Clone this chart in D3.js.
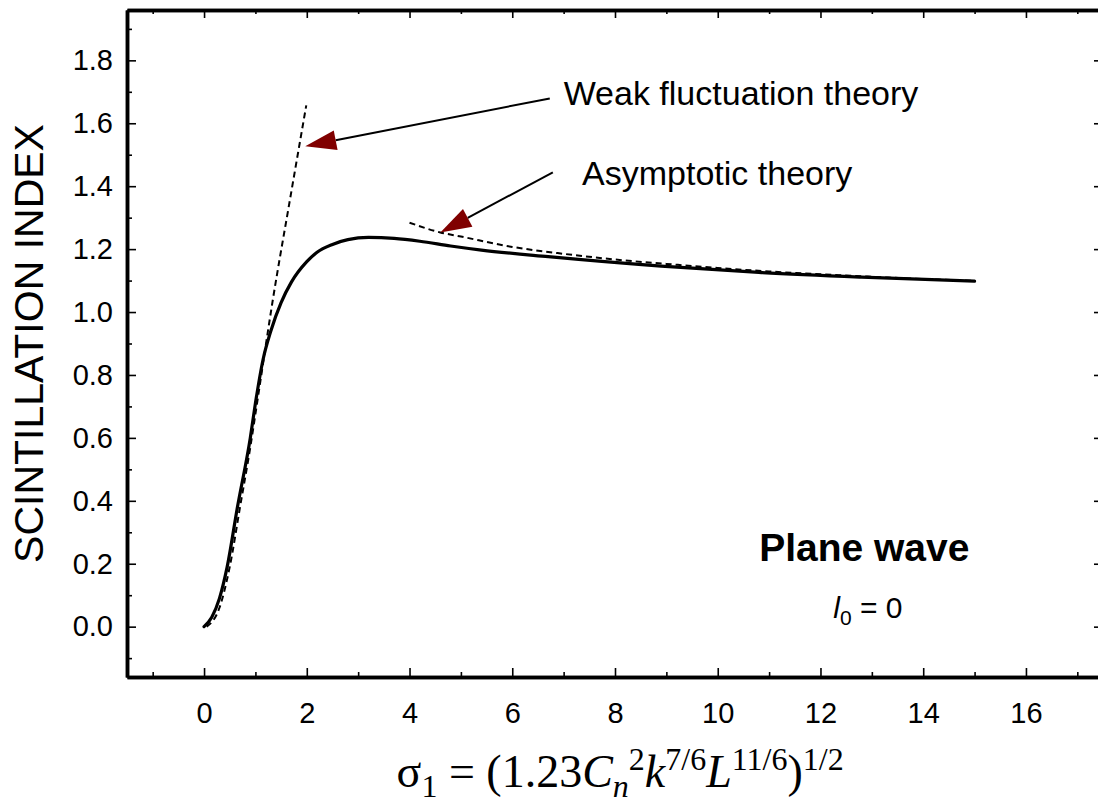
<!DOCTYPE html>
<html>
<head>
<meta charset="utf-8">
<script src="https://d3js.org/d3.v7.min.js"></script>
<style>
  body { margin: 0; background: #fff; }
  svg { display: block; }
  .tick text { font-family: "Liberation Sans", Arial, sans-serif; }
</style>
</head>
<body>
<svg width="1098" height="805"></svg>
<script>

// ---- data ----
var sigma1 = [0, 0.15, 0.3, 0.45, 0.65, 0.9, 1.0, 1.15, 1.3, 1.5, 1.7, 2.0, 2.2, 2.5, 2.8, 3.2, 3.7, 4.2, 4.8, 5.4, 6.7, 8.9, 10.8, 12.8, 15];
var scintIndex = [0, 0.03, 0.09, 0.19, 0.38, 0.6, 0.71, 0.85, 0.94, 1.03, 1.095, 1.16, 1.19, 1.215, 1.23, 1.237, 1.234, 1.225, 1.21, 1.197, 1.176, 1.146, 1.126, 1.111, 1.098];

var weakX = [0.05, 0.3, 0.5, 0.7, 0.9, 1.05, 1.34, 1.67, 1.99];
var weakY = [0.0, 0.06, 0.19, 0.38, 0.57, 0.73, 1.04, 1.355, 1.657];

var asymX = [4, 4.6, 5, 6, 7, 8, 9, 10, 11, 12, 13, 14, 15];
var asymY = [1.284, 1.253, 1.24, 1.207, 1.185, 1.167, 1.153, 1.14, 1.129, 1.12, 1.112, 1.105, 1.099];

var xMajor = [0, 2, 4, 6, 8, 10, 12, 14, 16];
var xMinor = [-1, 1, 3, 5, 7, 9, 11, 13, 15, 17];
var yMajor = [0, 0.2, 0.4, 0.6, 0.8, 1.0, 1.2, 1.4, 1.6, 1.8];
var yMinor = [-0.1, 0.1, 0.3, 0.5, 0.7, 0.9, 1.1, 1.3, 1.5, 1.7, 1.9];

// annotations: [text, x, y] in data units, arrows: [fromX, fromY, tipX, tipY]
var notes = [["Weak fluctuation theory", 7.0, 1.657], ["Asymptotic theory", 7.36, 1.403]];
var arrows = [[6.73, 1.679, 1.97, 1.527], [6.79, 1.444, 4.6, 1.253]];

var svg = d3.select("svg");

var x = d3.scaleLinear().domain([-1.5, 17.5]).range([127, 1103]);
var y = d3.scaleLinear().domain([-0.16, 1.96]).range([677, 10]);

var fmt = d3.format(".1f");

function styleAxis(g) {
  g.select(".domain").attr("stroke-width", 3.5);
  g.selectAll(".tick line").attr("stroke-width", 1.6);
  g.selectAll(".tick text").attr("font-size", 29).attr("fill", "#000");
}

// bottom
svg.append("g").attr("transform", "translate(0," + y.range()[0] + ")")
    .call(d3.axisBottom(x).tickValues(xMajor).tickSizeInner(-9).tickSizeOuter(0).tickPadding(25).tickFormat(d3.format("d")))
    .call(styleAxis)
    .selectAll(".tick text").attr("dy", "0.71em");
svg.append("g").attr("transform", "translate(0," + y.range()[0] + ")")
    .call(d3.axisBottom(x).tickValues(xMinor).tickSizeInner(-5).tickSizeOuter(0).tickFormat(""))
    .call(styleAxis);

// top
svg.append("g").attr("transform", "translate(0," + y.range()[1] + ")")
    .call(d3.axisTop(x).tickValues(xMajor).tickSizeInner(-8).tickSizeOuter(0).tickFormat(""))
    .call(styleAxis);
svg.append("g").attr("transform", "translate(0," + y.range()[1] + ")")
    .call(d3.axisTop(x).tickValues(xMinor).tickSizeInner(-4).tickSizeOuter(0).tickFormat(""))
    .call(styleAxis);

// left
svg.append("g").attr("transform", "translate(" + x.range()[0] + ",0)")
    .call(d3.axisLeft(y).tickValues(yMajor).tickSizeInner(-9).tickSizeOuter(0).tickPadding(14).tickFormat(fmt))
    .call(styleAxis);
svg.append("g").attr("transform", "translate(" + x.range()[0] + ",0)")
    .call(d3.axisLeft(y).tickValues(yMinor).tickSizeInner(-5).tickSizeOuter(0).tickFormat(""))
    .call(styleAxis);

// right
svg.append("g").attr("transform", "translate(" + x.range()[1] + ",0)")
    .call(d3.axisRight(y).tickValues(yMajor).tickSizeInner(-9).tickSizeOuter(0).tickFormat(""))
    .call(styleAxis);
svg.append("g").attr("transform", "translate(" + x.range()[1] + ",0)")
    .call(d3.axisRight(y).tickValues(yMinor).tickSizeInner(-5).tickSizeOuter(0).tickFormat(""))
    .call(styleAxis);

// curves
var line = d3.line()
    .x(function(d) { return x(d[0]); })
    .y(function(d) { return y(d[1]); })
    .curve(d3.curveMonotoneX);

svg.append("path")
    .attr("d", line(d3.zip(weakX, weakY)))
    .attr("fill", "none").attr("stroke", "#000").attr("stroke-width", 2)
    .attr("stroke-dasharray", "6,4");

svg.append("path")
    .attr("d", line(d3.zip(asymX, asymY)))
    .attr("fill", "none").attr("stroke", "#000").attr("stroke-width", 2)
    .attr("stroke-dasharray", "6,4");

svg.append("path")
    .attr("d", line(d3.zip(sigma1, scintIndex)))
    .attr("fill", "none").attr("stroke", "#000").attr("stroke-width", 3.2)
    .attr("stroke-linecap", "round").attr("stroke-linejoin", "round");

// arrows
arrows.forEach(function(a) {
  var x0 = x(a[0]), y0 = y(a[1]), x1 = x(a[2]), y1 = y(a[3]);
  var ang = Math.atan2(y1 - y0, x1 - x0);
  var len = 31, half = 10;
  var bx = x1 - len * Math.cos(ang), by = y1 - len * Math.sin(ang);
  svg.append("line")
      .attr("x1", x0).attr("y1", y0).attr("x2", bx).attr("y2", by)
      .attr("stroke", "#000").attr("stroke-width", 2);
  var pts = [[x1, y1],
             [bx + half * Math.sin(ang), by - half * Math.cos(ang)],
             [bx - half * Math.sin(ang), by + half * Math.cos(ang)]];
  svg.append("polygon")
      .attr("points", pts.map(function(p) { return p.join(","); }).join(" "))
      .attr("fill", "#800000");
});

svg.selectAll(".note").data(notes).enter().append("text")
    .attr("class", "note")
    .attr("x", function(d) { return x(d[1]); })
    .attr("y", function(d) { return y(d[2]); })
    .attr("font-family", "Liberation Sans, Arial, sans-serif")
    .attr("font-size", 34)
    .text(function(d) { return d[0]; });

svg.append("text")
    .attr("x", x(14.9)).attr("y", y(0.21))
    .attr("text-anchor", "end")
    .attr("font-family", "Liberation Sans, Arial, sans-serif")
    .attr("font-weight", "bold").attr("font-size", 39)
    .text("Plane wave");

var l0 = svg.append("text")
    .attr("x", x(12.25)).attr("y", y(0.028))
    .attr("font-family", "Liberation Sans, Arial, sans-serif")
    .attr("font-size", 30);
l0.append("tspan").attr("font-style", "italic").text("l");
l0.append("tspan").attr("font-size", 21).attr("dy", 7).text("0");
l0.append("tspan").attr("dy", -7).text(" = 0");

// y title
svg.append("text")
    .attr("transform", "translate(43," + y(0.9) + ") rotate(-90)")
    .attr("text-anchor", "middle")
    .attr("font-family", "Liberation Sans, Arial, sans-serif")
    .attr("font-size", 41)
    .text("SCINTILLATION INDEX");

// x title
var xt = svg.append("text")
    .attr("x", x(8.1)).attr("y", 787)
    .attr("text-anchor", "middle")
    .attr("font-family", "Liberation Serif, Times New Roman, serif")
    .attr("font-size", 46);
xt.append("tspan").text("\u03c3");
xt.append("tspan").attr("font-size", 32).attr("dy", 10).text("1");
xt.append("tspan").attr("dy", -10).text(" = (1.23");
xt.append("tspan").attr("font-style", "italic").text("C");
xt.append("tspan").attr("font-style", "italic").attr("font-size", 32).attr("dy", 10).text("n");
xt.append("tspan").attr("font-size", 32).attr("dy", -27).text("2");
xt.append("tspan").attr("font-style", "italic").attr("dy", 17).text("k");
xt.append("tspan").attr("font-size", 32).attr("dy", -17).text("7/6");
xt.append("tspan").attr("font-style", "italic").attr("dy", 17).text("L");
xt.append("tspan").attr("font-size", 32).attr("dy", -17).text("11/6");
xt.append("tspan").attr("dy", 17).text(")");
xt.append("tspan").attr("font-size", 32).attr("dy", -17).text("1/2");

</script>
</body>
</html>
